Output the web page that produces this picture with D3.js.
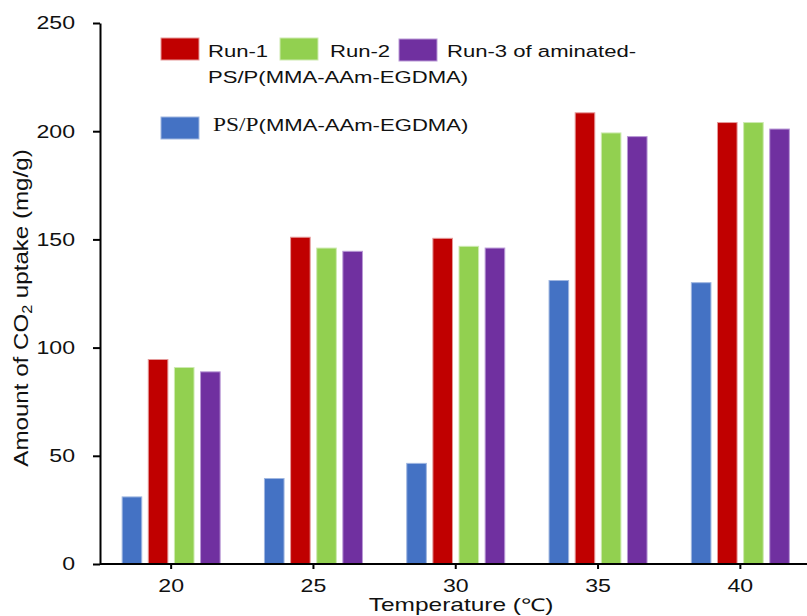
<!DOCTYPE html>
<html>
<head>
<meta charset="utf-8">
<script src="https://cdn.jsdelivr.net/npm/d3@7"></script>
<style>
  body { margin: 0; background: #fff; }
  text { font-family: "Liberation Sans", Arial, sans-serif; fill: #111; }
</style>
</head>
<body>
<div id="chart"></div>
<script>
var temperatures = ["20", "25", "30", "35", "40"];
var seriesNames = ["base", "run1", "run2", "run3"];
var baseValues = [31, 39.5, 46.5, 131, 130];
var run1Values = [94.5, 151, 150.5, 208.5, 204];
var run2Values = [90.8, 146, 146.8, 199.2, 204];
var run3Values = [88.8, 144.5, 146, 197.5, 201];
var yTicks = [0, 50, 100, 150, 200, 250];
var colors = {base: "#4472C4", run1: "#C00000", run2: "#92D050", run3: "#7030A0"};
var strokes = {base: "#9fb6e0", run1: "#e59a9a", run2: "#cdeab0", run3: "#b999d6"};

var width = 807, height = 616;
var margin = {top: 23, right: -4, bottom: 52, left: 100};
// the source figure is stretched sideways, so horizontal text is widened
var stretch = 1.3;

var rows = temperatures.map(function (t, i) {
    return {t: t, base: baseValues[i], run1: run1Values[i], run2: run2Values[i], run3: run3Values[i]};
});

var svg = d3.select("#chart").append("svg")
    .attr("width", width)
    .attr("height", height);

var x0 = d3.scaleBand()
    .domain(temperatures)
    .range([margin.left, margin.left + 5 * 142.3]);

var x1 = d3.scaleBand()
    .domain(seriesNames)
    .range([-49, 49])
    .paddingInner(0.25);

var y = d3.scaleLinear()
    .domain([0, 250])
    .range([height - margin.bottom, margin.top]);

// bars
var group = svg.append("g").selectAll("g")
    .data(rows).enter().append("g")
    .attr("transform", function (d) {
        return "translate(" + (x0(d.t) + x0.bandwidth() / 2) + ",0)";
    });

group.selectAll("rect")
    .data(function (d) {
        return seriesNames.map(function (k) { return {key: k, value: d[k]}; });
    })
    .enter().append("rect")
    .attr("x", function (d) { return x1(d.key); })
    .attr("y", function (d) { return y(d.value); })
    .attr("width", x1.bandwidth())
    .attr("height", function (d) { return y(0) - y(d.value); })
    .attr("fill", function (d) { return colors[d.key]; })
    .attr("stroke", function (d) { return strokes[d.key]; })
    .attr("stroke-width", 1);

// axes
var yAxis = svg.append("g")
    .attr("transform", "translate(" + margin.left + ",0)")
    .call(d3.axisLeft(y).tickValues(yTicks).tickSize(7).tickSizeOuter(0).tickPadding(13));

var xAxis = svg.append("g")
    .attr("transform", "translate(0," + y(0) + ")")
    .call(d3.axisBottom(x0).tickSize(5).tickSizeOuter(0).tickPadding(10));

xAxis.select(".domain").attr("d", "M" + margin.left + ",0H" + width);

[yAxis, xAxis].forEach(function (a) {
    a.select(".domain").attr("stroke", "#000").attr("stroke-width", 2);
    a.selectAll(".tick line").attr("stroke", "#000").attr("stroke-width", 2);
    a.selectAll(".tick text")
        .attr("font-size", 18.5)
        .attr("font-family", "Liberation Sans, Arial, sans-serif")
        .attr("fill", "#111")
        .attr("transform", "scale(1.25,1)");
});

// axis titles
svg.append("text")
    .attr("transform", "translate(461,611) scale(1.4,1)")
    .attr("text-anchor", "middle")
    .attr("font-size", 17.5)
    .text("Temperature (\u2103)");

var yTitle = svg.append("text")
    .attr("transform", "translate(28,308) rotate(-90) scale(1.15,1)")
    .attr("text-anchor", "middle")
    .attr("font-size", 21);
yTitle.append("tspan").text("Amount of CO");
yTitle.append("tspan").attr("font-size", 14).attr("dy", 4).text("2");
yTitle.append("tspan").attr("dy", -4).text(" uptake (mg/g)");

// legend
var legend = svg.append("g");
var legendItems = [
    {key: "run1", x: 161, y: 38, tx: 208, label: "Run-1"},
    {key: "run2", x: 280, y: 38, tx: 330, label: "Run-2"},
    {key: "run3", x: 399, y: 39, tx: 447, label: "Run-3 of aminated-"},
    {key: "base", x: 161, y: 117, tx: 0, label: null}
];
legend.selectAll("rect")
    .data(legendItems).enter().append("rect")
    .attr("x", function (d) { return d.x; })
    .attr("y", function (d) { return d.y; })
    .attr("width", 38)
    .attr("height", 22)
    .attr("fill", function (d) { return colors[d.key]; })
    .attr("stroke", function (d) { return strokes[d.key]; });

legend.selectAll("text.lab")
    .data(legendItems.filter(function (d) { return d.label; })).enter().append("text")
    .attr("class", "lab")
    .attr("transform", function (d) { return "translate(" + d.tx + ",57) scale(" + stretch + ",1)"; })
    .attr("font-size", 17)
    .text(function (d) { return d.label; });

legend.append("text")
    .attr("transform", "translate(208,83) scale(" + stretch + ",1)")
    .attr("font-size", 17)
    .text("PS/P(MMA-AAm-EGDMA)");

var baseLabel = legend.append("text")
    .attr("transform", "translate(213,131) scale(" + stretch + ",1)")
    .attr("font-size", 17);
baseLabel.append("tspan").attr("font-family", "Liberation Serif, Times New Roman, serif").attr("font-size", 18).text("PS/P");
baseLabel.append("tspan").text("(MMA-AAm-EGDMA)");
</script>
</body>
</html>
